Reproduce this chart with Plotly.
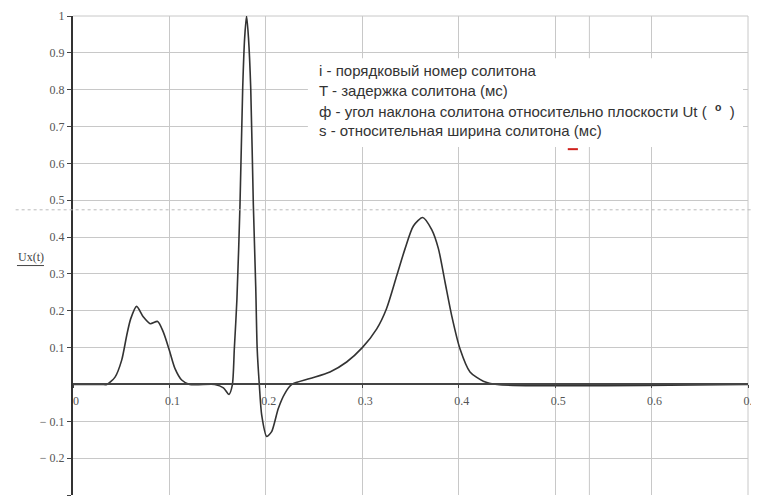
import plotly.graph_objects as go

# Curve samples: time t (s) and Ux(t)
t_vals = [0.0, 0.03, 0.035, 0.0436, 0.0505, 0.0557, 0.0598, 0.066, 0.073, 0.080,
          0.0878, 0.0937, 0.0999, 0.1058, 0.1127, 0.121, 0.147, 0.156, 0.1618,
          0.1652, 0.1673, 0.170, 0.1732, 0.176, 0.178, 0.180, 0.182, 0.1843,
          0.187, 0.1895, 0.191, 0.1932, 0.1957, 0.2009, 0.206, 0.2129, 0.2198,
          0.227, 0.2458, 0.2665, 0.2838, 0.300, 0.315, 0.325, 0.3357, 0.3443,
          0.353, 0.3626, 0.372, 0.379, 0.3858, 0.3927, 0.4013, 0.4117, 0.4255,
          0.44, 0.7]
u_vals = [0.0, 0.0, 0.0, 0.02, 0.066, 0.133, 0.178, 0.212, 0.183, 0.165,
          0.171, 0.142, 0.093, 0.043, 0.012, 0.0, 0.0, -0.009, -0.027,
          -0.002, 0.097, 0.232, 0.49, 0.805, 0.94, 1.0, 0.94, 0.805,
          0.49, 0.265, 0.097, 0.0, -0.083, -0.141, -0.128, -0.065, -0.024,
          0.0, 0.016, 0.034, 0.061, 0.10, 0.151, 0.205, 0.295, 0.368,
          0.43, 0.453, 0.42, 0.368, 0.278, 0.187, 0.097, 0.034, 0.009,
          0.0, 0.0]

x_ticks = [0, 0.1, 0.2, 0.3, 0.4, 0.5, 0.6, 0.7]
x_tick_text = ["0", "0.1", "0.2", "0.3", "0.4", "0.5", "0.6", "0.7"]
y_ticks = [-0.3, -0.2, -0.1, 0.1, 0.2, 0.3, 0.4, 0.5, 0.6, 0.7, 0.8, 0.9, 1.0]
y_tick_text = ["− 0.3", "− 0.2", "− 0.1", "0.1", "0.2", "0.3", "0.4", "0.5",
               "0.6", "0.7", "0.8", "0.9", "1"]

marker_t = 0.5355      # extra vertical marker line
marker_u = 0.474       # dotted horizontal marker line

legend_lines = [
    "i - порядковый номер солитона",
    "T - задержка солитона (мс)",
    "ф - угол наклона солитона относительно плоскости Ut (  <sup><b>o</b></sup>  )",
    "s - относительная ширина солитона (мс)",
]

X_MIN, X_MAX = 0.0, 0.7
Y_MIN, Y_MAX = -0.3, 1.0

fig = go.Figure()
fig.add_trace(go.Scatter(
    x=t_vals, y=u_vals, mode="lines",
    line=dict(color="#333333", width=1.6, shape="spline", smoothing=0.7),
    hoverinfo="skip", showlegend=False,
))

serif = "Liberation Serif, Times New Roman, serif"

# page body has an 8px margin, so the figure is 751x491 placed at (8, 8)
fig.update_layout(
    width=751, height=491,
    margin=dict(l=65, r=11, t=8, b=4),
    paper_bgcolor="white", plot_bgcolor="white",
    xaxis=dict(
        range=[X_MIN, X_MAX], tickvals=x_ticks, ticktext=x_tick_text,
        showgrid=True, gridcolor="#c8c8c8", gridwidth=1,
        zeroline=False, showline=True, linecolor="#444444", linewidth=1.5,
        anchor="free", position=(0 - Y_MIN) / (Y_MAX - Y_MIN),
        ticks="outside", ticklen=3, tickcolor="#444444",
        ticklabelshift=3, ticklabelstandoff=2,
        tickfont=dict(family=serif, size=12, color="#555555"),
        automargin=False,
    ),
    yaxis=dict(
        range=[Y_MIN, Y_MAX], tickvals=y_ticks, ticktext=y_tick_text,
        showgrid=True, gridcolor="#c8c8c8", gridwidth=1,
        zeroline=False, showline=True, linecolor="#333333", linewidth=2,
        ticks="outside", ticklen=4, tickcolor="#444444",
        tickfont=dict(family=serif, size=12, color="#555555"),
        automargin=False,
    ),
)

# extra light vertical line and dotted horizontal line
fig.add_shape(type="line", xref="x", yref="paper", x0=marker_t, x1=marker_t,
              y0=0, y1=1, line=dict(color="#c8c8c8", width=1), layer="below")
fig.add_shape(type="line", xref="paper", yref="y", x0=-0.085, x1=1.02,
              y0=marker_u, y1=marker_u, line=dict(color="#bbbbbb", width=1, dash="dot"),
              layer="above")
# right border and top line
fig.add_shape(type="line", xref="paper", yref="paper", x0=1, x1=1, y0=0, y1=1,
              line=dict(color="#c8c8c8", width=1), layer="below")
fig.add_shape(type="line", xref="paper", yref="paper", x0=0, x1=1, y0=1, y1=1,
              line=dict(color="#c8c8c8", width=1), layer="below")

# white text box
fig.add_shape(type="rect", xref="paper", yref="paper",
              x0=0.348, x1=0.9926, y0=0.7265, y1=0.912,
              line=dict(width=0), fillcolor="white", layer="above")

line_y = [0.886, 0.844, 0.803, 0.762]
for txt, yy in zip(legend_lines, line_y):
    fig.add_annotation(text=txt, xref="paper", yref="paper", x=0.362, y=yy,
                       xanchor="left", yanchor="middle", showarrow=False,
                       font=dict(family="Liberation Sans, Arial, sans-serif",
                                 size=15, color="#333333"))
# small red mark under "(мс)"
fig.add_shape(type="line", xref="paper", yref="paper", x0=0.733, x1=0.748,
              y0=0.722, y1=0.722, line=dict(color="#d0211c", width=2), layer="above")

# y-axis label
fig.add_annotation(text="Ux(t)", xref="paper", yref="paper", x=-0.062, y=0.497,
                   xanchor="center", yanchor="middle", showarrow=False,
                   font=dict(family=serif, size=12, color="#444444"))
fig.add_shape(type="line", xref="paper", yref="paper", x0=-0.083, x1=-0.043,
              y0=0.479, y1=0.479, line=dict(color="#444444", width=1))

fig.write_html("out.html")
